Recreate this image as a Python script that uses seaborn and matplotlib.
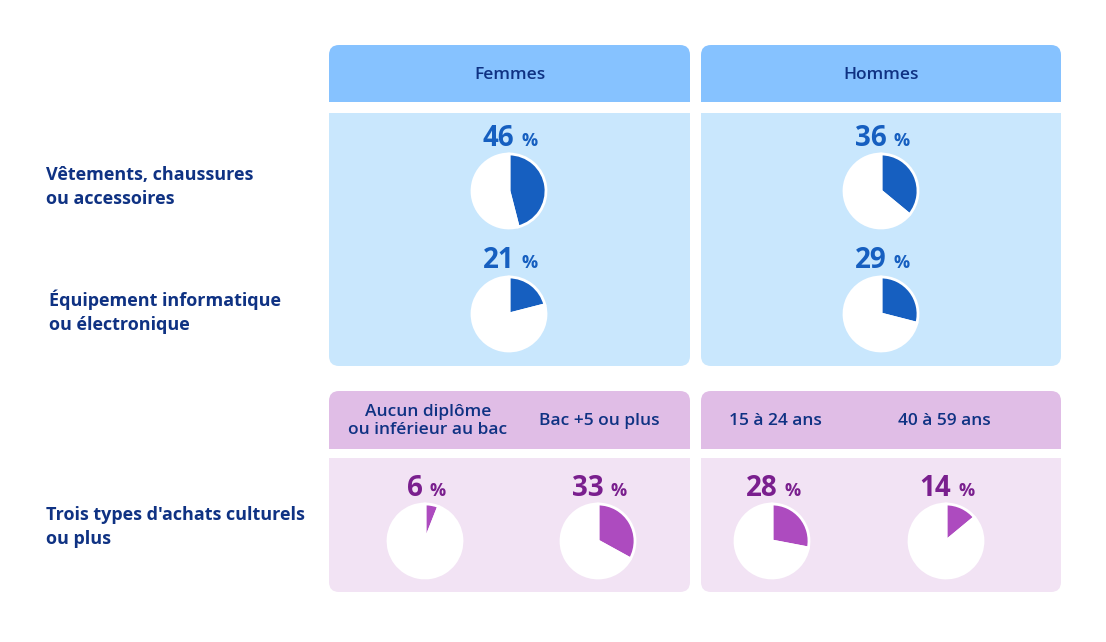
import matplotlib.pyplot as plt
import seaborn as sns
from matplotlib.patches import FancyBboxPatch, Rectangle
from matplotlib.offsetbox import TextArea, HPacker, AnnotationBbox

# data
sexes = ['Femmes', 'Hommes']
row_labels = ['Vêtements, chaussures\nou accessoires',
              'Équipement informatique\nou électronique',
              "Trois types d'achats culturels\nou plus"]
vetements = [46, 36]
equipement = [21, 29]
groups = ['Aucun diplôme\nou inférieur au bac', 'Bac +5 ou plus',
          '15 à 24 ans', '40 à 59 ans']
culturels = [6, 33, 28, 14]

W, H = 1106, 642
NAVY = '#0f3283'
BLUE = '#165fc0'
PURPLE = '#ad4bbf'
PURPLE_TXT = '#7a1f8e'

sns.set_theme(style='white')
plt.rcParams['font.family'] = ['Open Sans', 'DejaVu Sans']

fig = plt.figure(figsize=(W / 100, H / 100), dpi=100)
ax = fig.add_axes([0, 0, 1, 1])
ax.set_xlim(0, W)
ax.set_ylim(0, H)
ax.set_aspect('equal')
ax.axis('off')


def Y(y):
    return H - y


def panel(x0, x1, y0, y1, color, round_top):
    r = 10
    ax.add_patch(FancyBboxPatch((x0 + r, Y(y1) + r), x1 - x0 - 2 * r, y1 - y0 - 2 * r,
                                boxstyle=f'round,pad={r}', fc=color, ec='none'))
    # square off the other side
    if round_top:
        ax.add_patch(Rectangle((x0, Y(y1)), x1 - x0, 2 * r, fc=color, ec='none'))
    else:
        ax.add_patch(Rectangle((x0, Y(y0) - 2 * r), x1 - x0, 2 * r, fc=color, ec='none'))


cols = [(329, 690), (701, 1061)]
for (x0, x1) in cols:
    panel(x0, x1, 45, 102, '#86c2ff', True)
    panel(x0, x1, 113, 366, '#c9e7fd', False)
    panel(x0, x1, 391, 449, '#e0bde6', True)
    panel(x0, x1, 458, 592, '#f2e3f4', False)


def pie_with_label(value, cx, cy, color, txtcolor):
    ax.pie([value, 100 - value], colors=[color, 'white'], center=(cx, Y(cy)), radius=37,
           startangle=90, counterclock=False, frame=True,
           wedgeprops=dict(edgecolor='white', linewidth=2))
    num = TextArea(str(value), textprops=dict(fontsize=20, fontweight='bold', color=txtcolor))
    pct = TextArea('%', textprops=dict(fontsize=13, fontweight='bold', color=txtcolor))
    box = HPacker(children=[num, pct], align='baseline', pad=0, sep=5)
    ab = AnnotationBbox(box, (cx + 1, Y(cy - 53)), frameon=False, box_alignment=(0.5, 0.5))
    ax.add_artist(ab)


# headers
for (x0, x1), s in zip(cols, sexes):
    ax.text((x0 + x1) / 2, Y(75), s, ha='center', va='center', fontsize=12.5,
            fontweight='semibold', color=NAVY)

pie_cx = [509, 881]
for cx, v in zip(pie_cx, vetements):
    pie_with_label(v, cx, 191, BLUE, BLUE)
for cx, v in zip(pie_cx, equipement):
    pie_with_label(v, cx, 314, BLUE, BLUE)

grp_cx = [425, 598, 772, 946]
grp_tx = [428, 599, 775, 944]
for tx, g in zip(grp_tx, groups):
    ax.text(tx, Y(421), g, ha='center', va='center', fontsize=12.5,
            fontweight='semibold', color=NAVY, linespacing=1.25)
for cx, v in zip(grp_cx, culturels):
    pie_with_label(v, cx, 541, PURPLE, PURPLE_TXT)

# row labels
for (lx, ly), lab in zip([(46, 187), (49, 312), (46, 527)], row_labels):
    ax.text(lx, Y(ly), lab, ha='left', va='center', fontsize=13,
            fontweight='bold', color=NAVY, linespacing=1.4)

ax.set_xlim(0, W)
ax.set_ylim(0, H)
fig.savefig('out.png', dpi=100, facecolor='white')
